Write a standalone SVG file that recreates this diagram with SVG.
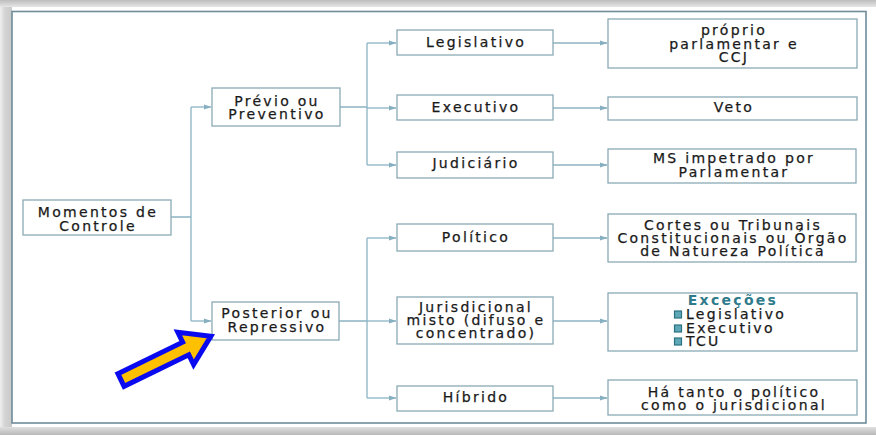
<svg xmlns="http://www.w3.org/2000/svg" width="876" height="435" viewBox="0 0 876 435">
<defs>
<linearGradient id="topg" x1="0" y1="0" x2="0" y2="1"><stop offset="0" stop-color="#bdbdbd"/><stop offset="1" stop-color="#e6e6e6"/></linearGradient>
<linearGradient id="botg" x1="0" y1="0" x2="0" y2="1"><stop offset="0" stop-color="#e0e0e0"/><stop offset="1" stop-color="#b8b8b8"/></linearGradient>
<linearGradient id="leftg" x1="0" y1="0" x2="1" y2="0"><stop offset="0" stop-color="#f0f0f0"/><stop offset="0.4" stop-color="#d4d4d4"/><stop offset="1" stop-color="#c9c9c9"/></linearGradient>
<marker id="ah" markerWidth="8" markerHeight="6" refX="7.5" refY="3" orient="auto" markerUnits="userSpaceOnUse"><path d="M0,0.3 L8,3 L0,5.7 Z" fill="#86afc0"/></marker>
<style>
.box{fill:#ffffff;stroke:#8aa9b5;stroke-width:1.3}
.t{font-family:"DejaVu Sans",sans-serif;font-size:14px;letter-spacing:2.3px;fill:#1a1a1a;stroke:#1a1a1a;stroke-width:0.25;text-anchor:middle}
.l{fill:none;stroke:#8cb4c4;stroke-width:1.3}
.a{marker-end:url(#ah)}
.ex{font-weight:bold;fill:#2f7b8b;stroke:none}
.bl{fill:#5ea7b7;stroke:#2b7283;stroke-width:1.2}
.tl{text-anchor:start}
</style>
</defs>
<rect x="0" y="0" width="876" height="435" fill="#ffffff"/>
<rect x="0" y="0" width="876" height="7" fill="url(#topg)"/>
<rect x="0" y="427" width="876" height="8" fill="url(#botg)"/>
<rect x="0" y="7" width="12" height="420" fill="url(#leftg)"/>
<rect x="12" y="11.5" width="854" height="411.5" fill="none" stroke="#6f8d98" stroke-width="1.6"/>

<g id="connectors">
<path class="l" d="M171,217 H191 M191,107 V321"/>
<path class="l a" d="M191,107 H211"/>
<path class="l a" d="M191,321 H211"/>
<path class="l" d="M340,107 H367 M367,43 V165"/>
<path class="l a" d="M367,43 H396"/>
<path class="l a" d="M367,108 H396"/>
<path class="l a" d="M367,165 H396"/>
<path class="l a" d="M553,43 H607"/>
<path class="l a" d="M553,108 H607"/>
<path class="l a" d="M553,165 H607"/>
<path class="l" d="M339,321 H367 M367,238 V398"/>
<path class="l a" d="M367,238 H396"/>
<path class="l a" d="M367,321 H396"/>
<path class="l a" d="M367,398 H396"/>
<path class="l a" d="M553,238 H607"/>
<path class="l a" d="M553,321 H607"/>
<path class="l a" d="M553,398 H607"/>
</g>

<g id="momentos"><rect class="box" x="23" y="200" width="148" height="35"/><text class="t" x="98" y="216.5">Momentos de</text><text class="t" x="98" y="230.5">Controle</text></g>
<g id="previo"><rect class="box" x="212" y="88" width="128" height="38"/><text class="t" x="277" y="105.5">Prévio ou</text><text class="t" x="277" y="119">Preventivo</text></g>
<g id="posterior"><rect class="box" x="212" y="302" width="127" height="38"/><text class="t" x="277" y="318">Posterior ou</text><text class="t" x="277" y="332">Repressivo</text></g>

<g id="legislativo"><rect class="box" x="397" y="30" width="156" height="25"/><text class="t" x="476" y="47">Legislativo</text></g>
<g id="executivo"><rect class="box" x="397" y="95" width="156" height="25"/><text class="t" x="476" y="112">Executivo</text></g>
<g id="judiciario"><rect class="box" x="397" y="152" width="156" height="26"/><text class="t" x="476" y="168">Judiciário</text></g>

<g id="proprio"><rect class="box" x="608" y="19" width="249" height="49"/><text class="t" x="734" y="35">próprio</text><text class="t" x="734" y="48.5">parlamentar e</text><text class="t" x="734" y="62">CCJ</text></g>
<g id="veto"><rect class="box" x="608" y="97" width="249" height="23"/><text class="t" x="734" y="112">Veto</text></g>
<g id="ms"><rect class="box" x="608" y="149" width="248" height="34"/><text class="t" x="734" y="163">MS impetrado por</text><text class="t" x="734" y="176.5">Parlamentar</text></g>

<g id="politico"><rect class="box" x="397" y="224" width="156" height="27"/><text class="t" x="476" y="242">Político</text></g>
<g id="jurisdicional"><rect class="box" x="397" y="297" width="156" height="47"/><text class="t" x="476" y="312">Jurisdicional</text><text class="t" x="476" y="325">misto (difuso e</text><text class="t" x="476" y="338">concentrado)</text></g>
<g id="hibrido"><rect class="box" x="397" y="386" width="156" height="25"/><text class="t" x="476" y="402">Híbrido</text></g>

<g id="cortes"><rect class="box" x="608" y="214" width="248" height="48"/><text class="t" x="733" y="230">Cortes ou Tribunais</text><text class="t" x="733" y="243">Constitucionais ou Órgão</text><text class="t" x="733" y="256">de Natureza Política</text></g>
<g id="excecoes"><rect class="box" x="608" y="293" width="249" height="58"/><text class="t ex" x="733" y="305">Exceções</text>
<rect class="bl" x="674.5" y="311" width="7" height="7"/><text class="t tl" x="686" y="319">Legislativo</text>
<rect class="bl" x="674.5" y="325" width="7" height="7"/><text class="t tl" x="686" y="333">Executivo</text>
<rect class="bl" x="674.5" y="338" width="7" height="7"/><text class="t tl" x="686" y="346">TCU</text></g>
<g id="hatanto"><rect class="box" x="608" y="380" width="249" height="35"/><text class="t" x="734" y="397">Há tanto o político</text><text class="t" x="734" y="410">como o jurisdicional</text></g>

<g id="pointer"><polygon transform="translate(121,380) rotate(-26)" points="0,-7 72,-7 72,-18 100,0 72,18 72,7 0,7" fill="#ffc000" stroke="#0a0af0" stroke-width="5" stroke-linejoin="miter"/></g>
</svg>
